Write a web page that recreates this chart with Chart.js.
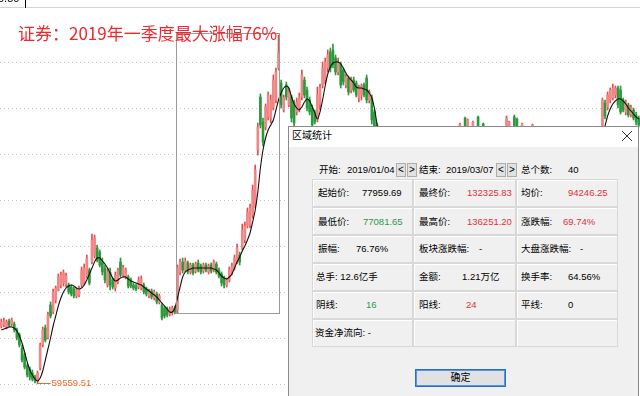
<!DOCTYPE html>
<html>
<head>
<meta charset="utf-8">
<script src="https://cdn.jsdelivr.net/npm/chart.js@4.4.1/dist/chart.umd.min.js"></script>
<style>
html, body { margin: 0; padding: 0; background: #fff; }
#wrap { position: relative; width: 640px; height: 396px; overflow: hidden; font-family: "Liberation Sans", "Noto Sans CJK SC", sans-serif; }
#wrap canvas { position: absolute; left: 0; top: 0; }
.abs { position: absolute; }
.t { position: absolute; font-size: 9.5px; line-height: 14px; white-space: nowrap; color: #000; }
.red { color: #e0303a; }
.green { color: #2a9a46; }
#title { position: absolute; left: 18px; top: 22px; font-family: "Noto Sans CJK SC", sans-serif; font-size: 17px; line-height: 22px; color: #f0282d; white-space: nowrap; }
#dlg { left: 288px; top: 126px; width: 351px; height: 290px; background: #f0f0f0; border: 1px solid #8a8a8a; box-sizing: border-box; }
#dlgBar { left: 289px; top: 127px; width: 349px; height: 20px; background: #fff; }
.cell { position: absolute; box-sizing: border-box; border: 1px solid #d8d8d8; box-shadow: inset 1px 1px 0 #fff; }
.nav { position: absolute; box-sizing: border-box; width: 10px; height: 14px; border: 1px solid #adadad; background: #e1e1e1; font-size: 10px; line-height: 12px; text-align: center; }
#ok { left: 415px; top: 369px; width: 91px; height: 18px; box-sizing: border-box; border: 1px solid #2a6fc9; box-shadow: inset 0 0 0 1px #5a95dc; background: #e1e1e1; font-size: 10px; line-height: 16px; text-align: center; }
</style>
</head>
<body>
<div id="wrap">
  <canvas id="kline" width="640" height="396"></canvas>
  <div class="t" style="left:-2px;top:-9px;font-size:11px;">0.50</div>
  <div class="abs" style="left:25px;top:0;width:1px;height:8px;background:#000;"></div>
  <div id="title">证券：2019年一季度最大涨幅76%</div>

  <div id="dlg" class="abs"></div>
  <div id="dlgBar" class="abs"></div>
  <div class="t" style="left:292px;top:129px;font-size:10px;">区域统计</div>
  <svg class="abs" style="left:621px;top:130px;" width="12" height="12"><path d="M1 1L11 11M11 1L1 11" stroke="#333" stroke-width="1"/></svg>
  <div id="cells"></div>

  <div class="t" style="left:319px;top:163px;">开始:</div>
  <div class="t" style="left:347px;top:163px;">2019/01/04</div>
  <div class="nav" style="left:396px;top:163px;">&lt;</div>
  <div class="nav" style="left:407px;top:163px;">&gt;</div>
  <div class="t" style="left:419px;top:163px;">结束:</div>
  <div class="t" style="left:446px;top:163px;">2019/03/07</div>
  <div class="nav" style="left:496px;top:163px;">&lt;</div>
  <div class="nav" style="left:507px;top:163px;">&gt;</div>
  <div class="t" style="left:521px;top:163px;">总个数:</div>
  <div class="t" style="left:568px;top:163px;">40</div>

  <div class="t" style="left:318px;top:186px;">起始价:</div>
  <div class="t" style="left:362px;top:186px;">77959.69</div>
  <div class="t" style="left:419px;top:186px;">最终价:</div>
  <div class="t red" style="left:467px;top:186px;">132325.83</div>
  <div class="t" style="left:521px;top:186px;">均价:</div>
  <div class="t red" style="left:568px;top:186px;">94246.25</div>

  <div class="t" style="left:318px;top:215px;">最低价:</div>
  <div class="t green" style="left:363px;top:215px;">77081.65</div>
  <div class="t" style="left:419px;top:215px;">最高价:</div>
  <div class="t red" style="left:467px;top:215px;">136251.20</div>
  <div class="t" style="left:521px;top:215px;">涨跌幅:</div>
  <div class="t red" style="left:563px;top:215px;">69.74%</div>

  <div class="t" style="left:318px;top:242px;">振幅:</div>
  <div class="t" style="left:356px;top:242px;">76.76%</div>
  <div class="t" style="left:419px;top:242px;">板块涨跌幅:</div>
  <div class="t" style="left:479px;top:242px;">-</div>
  <div class="t" style="left:521px;top:242px;">大盘涨跌幅:</div>
  <div class="t" style="left:580px;top:242px;">-</div>

  <div class="t" style="left:316px;top:270px;">总手: 12.6亿手</div>
  <div class="t" style="left:419px;top:270px;">金额:</div>
  <div class="t" style="left:462px;top:270px;">1.21万亿</div>
  <div class="t" style="left:521px;top:270px;">换手率:</div>
  <div class="t" style="left:568px;top:270px;">64.56%</div>

  <div class="t" style="left:316px;top:298px;">阴线:</div>
  <div class="t green" style="left:366px;top:298px;">16</div>
  <div class="t" style="left:419px;top:298px;">阳线:</div>
  <div class="t red" style="left:466px;top:298px;">24</div>
  <div class="t" style="left:521px;top:298px;">平线:</div>
  <div class="t" style="left:568px;top:298px;">0</div>

  <div class="t" style="left:315px;top:326px;">资金净流向: -</div>

  <div id="ok" class="abs">确定</div>
</div>

<script>
function gap(n) { return new Array(n).fill(null); }

// daily candles, index 0..246; null = hidden behind the dialog
const opens = [
    72280, 72500, 72060, 73380, 72720, 72720, 71400, 70300, 67440, 65900,
    63480, 62820, 61940, 61060, 60180, 63040, 68100, 71840, 69860, 76900,
    75360, 78000, 80200, 81300, 81740, 81520, 81300, 80860, 80420, 78880,
    79100, 81300, 81740, 83280, 84600, 86360, 87900, 89440, 88560, 86360,
    85040, 81300, 84160, 82400, 80640, 81960, 86360, 83500, 83060, 83060,
    82400, 81300, 81080, 80860, 80640, 81300, 80420, 78880, 79980, 78440,
    79320, 77560, 76900, 76240, 76020, 74920, 75140, 76240, 75800, 84160,
    86360, 84600, 86140, 84160, 85700, 84380, 86140, 85480, 84380, 85700,
    84160, 85700, 84600, 85920, 84600, 83720, 82840, 81300, 82400, 83940,
    85040, 86360, 87900, 89440, 91200, 94280, 94500, 96700, 98900, 111000,
    122660, 117160, 116060, 118260, 118040, 120460, 122000, 129040, 125740, 119800,
    125300, 120900, 122660, 120900, 119360, 120240, 122660, 126400, 124200, 122000,
    120240, 119360, 117600, 120900, 125300, 126400, 129040, 132560, 133000, 131240,
    128160, 129920, 128600, 125300, 126840, 124200, 126400, 125740, 122440, 123100,
    125300, 126840, 122000, 122440, 119360, 116500,
    ...gap(31), 114300, null, 118040, 115400, null, 114960, null, 118260, null, 116720,
    ...gap(8), 115400, 114960, null, 118260, 117820, null, 114740, ...gap(3), 115400, ...gap(26),
    115400, 121340, 120460, 122000, 122440, 123100, 124640, 124200, 122000, 119360,
    120900, 118920, 119800, 118700, 118040
];
const closes = [
    73160, 73380, 73160, 72500, 73600, 71400, 69640, 68100, 64800, 63260,
    61500, 61060, 60620, 60180, 61940, 68100, 71400, 69200, 74700, 74480,
    79760, 80640, 83060, 83500, 83940, 83280, 79760, 79320, 78880, 80200,
    80640, 84600, 85040, 87240, 81740, 91200, 91640, 86800, 85700, 84160,
    82400, 84160, 81300, 80860, 83500, 84600, 83500, 85040, 84600, 81080,
    81080, 80640, 80420, 82400, 82620, 79760, 79320, 79980, 78660, 79760,
    77560, 78880, 74040, 74480, 74700, 76020, 76240, 75360, 85040, 86360,
    84600, 86580, 84160, 85700, 83940, 85920, 84600, 84160, 85700, 84600,
    85480, 84380, 86360, 84160, 83280, 81740, 81300, 82400, 84600, 85480,
    87240, 89440, 86360, 93400, 94280, 97360, 98240, 102200, 106600, 116060,
    116500, 112760, 120460, 123100, 122000, 126400, 128160, 132330, 120900, 122440,
    122660, 123760, 118040, 116940, 121560, 122660, 127500, 123100, 120240, 119360,
    116500, 117160, 123100, 124640, 129040, 130360, 131900, 129040, 129700, 128160,
    130360, 125300, 125960, 127060, 123760, 126400, 124200, 123100, 124640, 125080,
    123100, 122000, 123760, 117600, 114300, 113200,
    ...gap(31), 116720, null, 115840, 117600, null, 117160, null, 116060, null, 114960,
    ...gap(8), 118040, 117160, null, 115400, 114960, null, 116720, ...gap(3), 116500, ...gap(26),
    122000, 118480, 123100, 124200, 124640, 124640, 120900, 119360, 119800, 121340,
    118700, 120240, 118040, 117160, 116500
];
const highs = [
    73820, 74040, 73600, 73820, 74040, 73160, 71840, 70740, 68100, 66340,
    63920, 63260, 62600, 61500, 62380, 68540, 72060, 72500, 75360, 77560,
    80420, 81080, 83720, 84160, 84600, 83940, 81740, 81300, 80860, 80640,
    81080, 85260, 85920, 87900, 85040, 92520, 92300, 90100, 89000, 87240,
    85700, 85040, 85040, 82840, 84160, 85040, 87240, 85700, 85040, 83500,
    82840, 81740, 81520, 83060, 83280, 81740, 80860, 80420, 80420, 80200,
    79760, 79320, 77340, 76680, 76460, 76460, 76680, 76680, 85700, 87020,
    87240, 87240, 86580, 86140, 86140, 86360, 86800, 85920, 86140, 86140,
    85920, 86140, 86800, 86360, 85040, 84160, 83280, 82840, 85260, 86140,
    87900, 90320, 88560, 94720, 95160, 98240, 99120, 103300, 107700, 116940,
    123320, 118040, 121120, 123760, 123100, 127500, 129040, 136250, 126400, 123100,
    125960, 124640, 123100, 122000, 122440, 123540, 128600, 127060, 124860, 122660,
    120900, 119800, 124860, 125520, 130360, 131240, 133000, 133440, 134320, 131900,
    131240, 130360, 129040, 127720, 127280, 127060, 127060, 126180, 125300, 125520,
    125740, 127500, 124200, 123100, 119800, 116940,
    ...gap(31), 116940, null, 118260, 117820, null, 117380, null, 118480, null, 116940,
    ...gap(8), 118480, 117380, null, 118700, 118040, null, 116940, ...gap(3), 116720, ...gap(26),
    122440, 122000, 123760, 124640, 125520, 125080, 125080, 125080, 122440, 122000,
    121340, 120900, 120240, 119360, 118480
];
const lows = [
    71840, 72060, 71620, 72060, 72280, 70960, 69200, 67660, 64360, 62820,
    61060, 60400, 60180, 59740, 59559.51, 62600, 67660, 68760, 69420, 74040,
    74920, 77340, 79980, 80640, 81080, 80860, 79320, 78880, 78440, 78440,
    78660, 80860, 81300, 82840, 81300, 85920, 87240, 86360, 85260, 83500,
    81740, 80860, 80200, 80420, 79980, 81520, 83060, 83060, 82620, 80640,
    80640, 80200, 79980, 80420, 80200, 79320, 78880, 78440, 78220, 78000,
    77120, 77120, 73600, 74040, 74260, 74480, 74700, 74920, 75140, 83500,
    83940, 84160, 83720, 83720, 83500, 83940, 84160, 83720, 83940, 84160,
    83720, 83940, 84160, 83720, 82840, 81080, 80640, 80860, 81960, 83500,
    84600, 85920, 85700, 89000, 90540, 93840, 93840, 96040, 98240, 109900,
    115840, 111880, 115400, 117600, 116940, 119800, 121340, 128600, 120240, 119360,
    122000, 120460, 117160, 116280, 118700, 119360, 122000, 122440, 119580, 118700,
    115840, 116720, 117160, 119800, 124640, 125520, 128160, 128160, 129040, 127500,
    127500, 124640, 125300, 124640, 123100, 123540, 123760, 122660, 121560, 122000,
    122660, 121340, 121340, 116720, 113640, 112540,
    ...gap(31), 113640, null, 115180, 114740, null, 114300, null, 115400, null, 114300,
    ...gap(8), 114740, 114300, null, 114740, 114300, null, 114080, ...gap(3), 114740, ...gap(26),
    114960, 117820, 119800, 121340, 122000, 122440, 120240, 118920, 119360, 118700,
    118260, 118260, 117600, 116500, 116060
];
// 5-day moving average as drawn
const ma5 = [
    71400, 71620, 71840, 72060, 72060, 71840, 71180, 70080, 68540, 66560,
    64360, 62600, 61500, 60620, 60180, 60840, 62380, 64800, 67220, 69640,
    72280, 74480, 76680, 78440, 79760, 80640, 81080, 81300, 81080, 80640,
    80420, 80640, 81300, 82400, 83720, 85040, 86360, 87240, 87240, 86580,
    85920, 85040, 83940, 82840, 82180, 82400, 82840, 83060, 83060, 82620,
    82180, 81960, 81740, 81520, 81300, 80860, 80420, 79980, 79540, 79100,
    78660, 78000, 77340, 76680, 76020, 75360, 75360, 76240, 78440, 80860,
    83060, 84160, 84600, 84820, 85040, 85040, 85040, 85040, 85040, 85040,
    85040, 85040, 84820, 84600, 83940, 83280, 82840, 82620, 83060, 83720,
    85040, 86360, 87460, 88780, 89880, 91200, 92740, 95160, 97800, 101760,
    107040, 111000, 113640, 115400, 116500, 117600, 119800, 122000, 123540, 124640,
    125080, 124640, 122660, 121120, 120240, 119800, 120460, 121560, 122220, 121780,
    120460, 119140, 117820, 119360, 122000, 125080, 127720, 129260, 130140, 130360,
    130360, 129920, 129040, 127940, 127060, 126400, 125740, 124860, 124640, 124640,
    124420, 124200, 123540, 122440, 120240, 116720, 113640,
    ...gap(85),
    114520, 116280, 118480, 120020, 121120, 121780, 122220, 122220, 121780, 121120,
    120240, 119580, 118920, 118260, 117820
];
const gridValues = [130360, 120240, 110120, 100000, 89880, 79760, 69640, 59520];
const yMin = 56880, yMax = 142460;
const boxStart = 68, boxEnd = 107;   // 2019/01/04 .. 2019/03/07

const labels = opens.map((_, i) => i);
const isUp = i => closes[i] >= opens[i];
const bodies = opens.map((o, i) => o == null ? null : [o, closes[i]]);
const wicks = lows.map((l, i) => l == null ? null : [l, highs[i]]);

// table cells of the dialog
const colEdges = [312, 413, 516, 618];
const rowEdges = [179, 207, 235, 263, 291, 319, 347];
let cellHtml = '';
for (let r = 0; r < rowEdges.length - 1; r++) {
    for (let c = 0; c < colEdges.length - 1; c++) {
        cellHtml += '<div class="cell" style="left:' + colEdges[c] + 'px;top:' + rowEdges[r] +
            'px;width:' + (colEdges[c + 1] - colEdges[c]) + 'px;height:' + (rowEdges[r + 1] - rowEdges[r]) + 'px"></div>';
    }
}
document.getElementById('cells').innerHTML = cellHtml;

const klinePlugin = {
    id: 'kline',
    beforeDatasetsDraw(chart) {
        const { ctx, chartArea: a, scales: { y } } = chart;
        ctx.save();
        ctx.strokeStyle = '#c4c4c4';
        ctx.lineWidth = 1;
        ctx.setLineDash([1, 3]);
        gridValues.forEach(v => {
            const py = Math.round(y.getPixelForValue(v)) + 0.5;
            ctx.beginPath();
            ctx.moveTo(a.left, py);
            ctx.lineTo(a.right, py);
            ctx.stroke();
        });
        ctx.setLineDash([]);
        ctx.strokeStyle = '#d4d4d4';
        ctx.beginPath();
        ctx.moveTo(a.left, a.top + 0.5);
        ctx.lineTo(a.right, a.top + 0.5);
        ctx.stroke();
        ctx.restore();
    },
    afterDatasetsDraw(chart) {
        const { ctx, scales: { x, y } } = chart;
        ctx.save();
        // selected range box
        let hi = -Infinity, lo = Infinity;
        for (let i = boxStart; i <= boxEnd; i++) {
            hi = Math.max(hi, highs[i]);
            lo = Math.min(lo, lows[i]);
        }
        const x1 = Math.round(x.getPixelForValue(boxStart)) - 0.5;
        const x2 = Math.round(x.getPixelForValue(boxEnd)) + 0.5;
        const y1 = Math.round(y.getPixelForValue(hi)) - 1.5;
        const y2 = Math.round(y.getPixelForValue(lo)) + 0.5;
        ctx.strokeStyle = '#9a9a9a';
        ctx.lineWidth = 1;
        ctx.strokeRect(x1, y1, x2 - x1, y2 - y1);

        // lowest price marker
        let li = 0;
        lows.forEach((v, i) => { if (v != null && v < lows[li]) li = i; });
        const lx = x.getPixelForValue(li), ly = Math.round(y.getPixelForValue(lows[li])) - 0.5;
        ctx.strokeStyle = '#ee6a2a';
        ctx.beginPath();
        ctx.moveTo(lx, ly);
        ctx.lineTo(lx + 13, ly);
        ctx.stroke();
        ctx.fillStyle = '#ee6a2a';
        ctx.font = '9.5px "Liberation Sans", sans-serif';
        ctx.textBaseline = 'middle';
        ctx.fillText(lows[li].toFixed(2), lx + 14, ly);
        ctx.restore();
    }
};

new Chart(document.getElementById('kline'), {
    type: 'bar',
    data: {
        labels: labels,
        datasets: [
            {
                type: 'line',
                data: ma5,
                borderColor: '#111',
                borderWidth: 1.1,
                pointRadius: 0,
                tension: 0.3,
                spanGaps: false,
                order: 0
            },
            {
                data: bodies,
                backgroundColor: ctx => isUp(ctx.dataIndex) ? '#f08686' : '#2c9a3c',
                barThickness: 2,
                grouped: false,
                borderSkipped: false,
                order: 1
            },
            {
                data: wicks,
                backgroundColor: ctx => isUp(ctx.dataIndex) ? '#e24a4a' : '#2c9a3c',
                barThickness: 1,
                grouped: false,
                order: 2
            }
        ]
    },
    options: {
        responsive: false,
        animation: false,
        events: [],
        layout: { padding: { top: 7, left: 0, right: 0, bottom: 0 } },
        plugins: { legend: { display: false }, tooltip: { enabled: false } },
        scales: {
            x: { display: false, offset: true },
            y: { display: false, min: yMin, max: yMax }
        }
    },
    plugins: [klinePlugin]
});
</script>
</body>
</html>
